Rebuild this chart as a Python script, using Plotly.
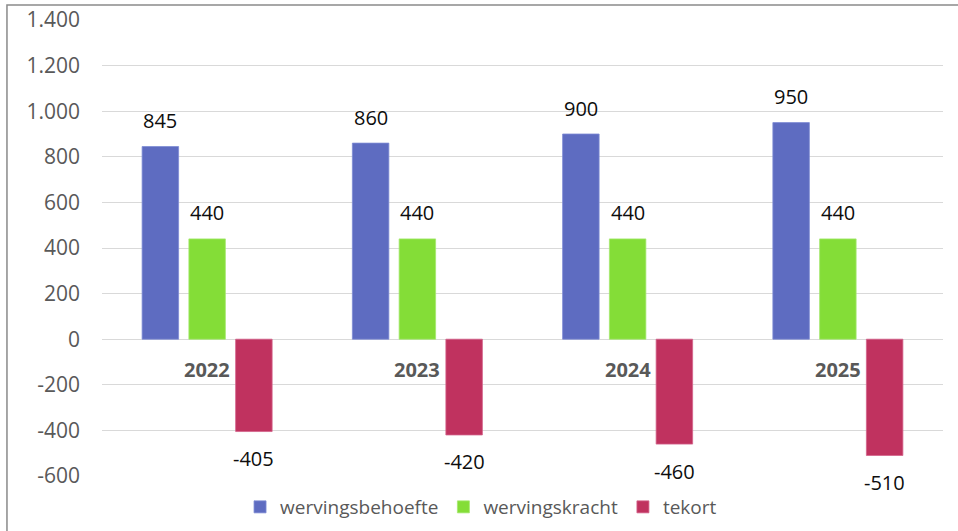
import plotly.graph_objects as go

# ---- data ----
YEARS = ["2022", "2023", "2024", "2025"]
SERIES = ["wervingsbehoefte", "wervingskracht", "tekort"]
BEHOEFTE = [845, 860, 900, 950]
KRACHT = [440, 440, 440, 440]
TEKORT = [-405, -420, -460, -510]
TICK_VALS = [-600, -400, -200, 0, 200, 400, 600, 800, 1000, 1200, 1400]
TICK_LABELS = ["-600", "-400", "-200", "0", "200", "400", "600", "800",
               "1.000", "1.200", "1.400"]

COLORS = ["#5E6CC1", "#84DD37", "#C0325F"]
EDGE = ["#7E8BD4", "#A4E86F", "#D3628A"]
FONT = "Open Sans"

values = [BEHOEFTE, KRACHT, TEKORT]
idx = list(range(len(YEARS)))
SLOT = 0.2224   # distance between bar centres inside a group (category units)
WIDTH = 0.1736  # bar width (category units)

fig = go.Figure()
annotations = []
for k, (name, vals) in enumerate(zip(SERIES, values)):
    off = (k - 1) * SLOT
    xs = [i + off for i in idx]
    fig.add_trace(go.Bar(
        x=xs, y=vals, width=WIDTH, name=name,
        marker=dict(color=COLORS[k], line=dict(color=EDGE[k], width=0.8)),
        hoverinfo="y+name",
    ))
    for x, v in zip(xs, vals):
        annotations.append(dict(
            x=x, y=v, xref="x", yref="y", text=str(v), showarrow=False,
            yanchor="middle", yshift=26 if v >= 0 else -27,
            font=dict(family=FONT, size=20, color="#0D0D0D"),
        ))

for i, yr in zip(idx, YEARS):
    annotations.append(dict(
        x=i, y=0, xref="x", yref="y", text="<b>" + yr + "</b>", showarrow=False,
        yanchor="middle", yshift=-30,
        font=dict(family=FONT, size=20, color="#595959"),
    ))

fig.update_layout(
    width=958, height=531,
    margin=dict(l=102, r=15, t=20, b=55, autoexpand=False),
    paper_bgcolor="white", plot_bgcolor="white",
    font=dict(family=FONT, size=20, color="#595959"),
    barmode="overlay",
    showlegend=True,
    legend=dict(
        orientation="h", x=0.4507, xanchor="center",
        y=-0.068, yanchor="middle", traceorder="normal",
        font=dict(family=FONT, size=19, color="#595959"),
        itemwidth=30, bgcolor="rgba(0,0,0,0)",
    ),
    xaxis=dict(
        range=[-0.5, 3.5], showticklabels=False, showgrid=False,
        zeroline=False, ticks="", fixedrange=True,
    ),
    yaxis=dict(
        range=[-600, 1400], tickvals=TICK_VALS, ticktext=TICK_LABELS,
        showgrid=True, gridcolor="#D9D9D9", gridwidth=1.4,
        zeroline=True, zerolinecolor="#D9D9D9", zerolinewidth=1.4,
        ticks="", ticklabelstandoff=21,
        tickfont=dict(family=FONT, size=21, color="#595959"),
        fixedrange=True,
    ),
    annotations=annotations,
    shapes=[dict(
        type="rect", xref="paper", yref="paper",
        x0=-0.113, x1=1.3, y0=-0.4, y1=1.033,
        line=dict(color="#8A8A8A", width=1.5), layer="above",
    )],
)

fig.write_html(
    "out.html",
    config={"displayModeBar": False},
    post_script="document.body.style.margin='0';document.body.style.overflow='hidden';",
)
